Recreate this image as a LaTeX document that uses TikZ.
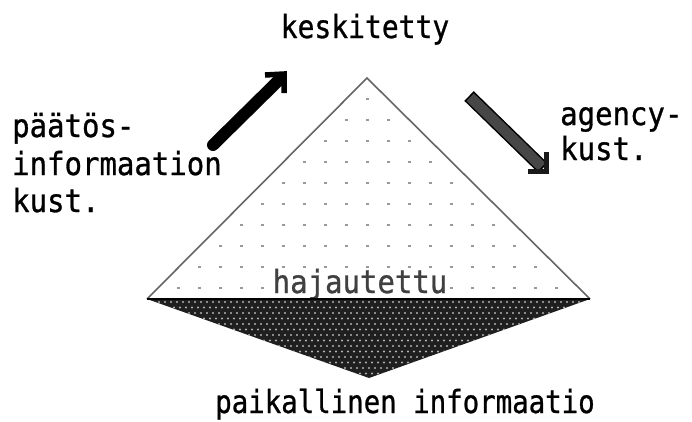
\documentclass[tikz,border=0pt]{standalone}
\usepackage{fontspec}
\newfontfamily\labelfont[FakeBold=0.9]{DejaVu Sans Mono}
\begin{document}
\begin{tikzpicture}[x=1pt,y=-1pt,
  lab/.style={font=\labelfont\fontsize{29}{34}\selectfont, inner sep=0pt, text=black, yscale=1.1},
  griddot/.style={fill=black!40},
  halftone/.style={fill=black!30},
  outline/.style={draw=black!60, line width=1.6pt}]
\useasboundingbox (0,0) rectangle (692,421);
\fill[white] (0,0) rectangle (692,421);
\coordinate (apex) at (367,78);
\coordinate (bl) at (147,299);
\coordinate (br) at (590,299);
\coordinate (bot) at (369,378);
% dot grid in the upper triangle
\foreach \j in {0,...,9} {
  \pgfmathsetmacro\yy{101.7+21*\j}
  \pgfmathsetmacro\hw{\yy-78-8}
  \foreach \k in {-10,...,10} {
    \pgfmathtruncatemacro\ok{abs(21*\k) < \hw}
    \ifnum\ok=1 \fill[griddot] ({367.7+21*\k-1.4},\yy-1.4) rectangle ++(2.8,-2.8); \fi
  }
}
\node[lab, fill=white, text=black!75, anchor=base] (haj) at (360,293) {hajautettu};
% dark lower triangle
\fill[black!88] (bl) -- (br) -- (bot) -- cycle;
\begin{scope}
  \clip (bl) -- (br) -- (bot) -- cycle;
  \foreach \j in {0,...,14} {
    \foreach \i in {0,...,75} {
      \fill[halftone] ({147+6*\i+3*mod(\j,2)},{302+5.5*\j}) circle (1.1);
    }
  }
\end{scope}
\draw[outline] (bl) -- (apex) -- (br);
\draw[black, line width=1.2pt] (bl) -- (br);
% left arrow
\coordinate (l0) at (213,145);
\coordinate (l1) at (284,74);
\draw[black, line width=12pt, line cap=round] (l0) -- (280,79);
\draw[black, line width=5.5pt, line join=miter] (265,75) -- (l1) -- (284,93);
% right arrow
\coordinate (r0) at (469,96);
\coordinate (r1) at (546,171);
\draw[black, line width=13.5pt] (r0) -- (543,168);
\draw[black!72, line width=10.5pt] (470.2,97.2) -- (541.8,166.8);
\draw[black!90, line width=5pt, line join=miter] (528,171) -- (r1) -- (546,152);
% labels
\node[lab, anchor=base, xscale=0.965] (top) at (365,38) {keskitetty};
\node[lab, anchor=base west] (l1t) at (12,137) {päätös-};
\node[lab, anchor=base west] (l2t) at (12,175) {informaation};
\node[lab, anchor=base west] (l3t) at (12,212) {kust.};
\node[lab, anchor=base west] (r1t) at (560,125) {agency-};
\node[lab, anchor=base west] (r2t) at (560,160) {kust.};
\node[lab, anchor=base, xscale=0.945] (bottom) at (405,413) {paikallinen informaatio};
\end{tikzpicture}
\end{document}
